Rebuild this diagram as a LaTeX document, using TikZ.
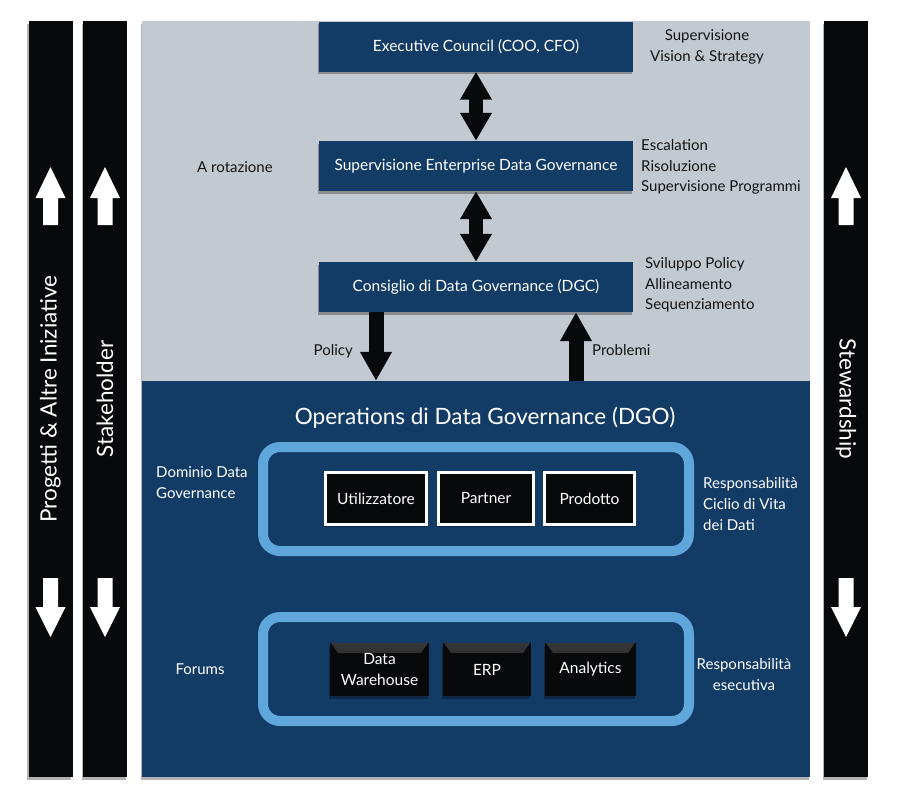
\documentclass[tikz,border=0pt]{standalone}
\usepackage{fontspec}
\setmainfont{Lato}
\usetikzlibrary{arrows.meta,shadows}
\definecolor{dblue}{HTML}{123C66}
\definecolor{pgray}{HTML}{C3C9D1}
\definecolor{barblack}{HTML}{08090B}
\definecolor{lblue}{HTML}{5FA6DB}
\definecolor{txt}{HTML}{141414}
\begin{document}
\begin{tikzpicture}[x=1pt,y=-1pt,
  shadowed/.style={drop shadow={shadow xshift=-1.5pt,shadow yshift=-2.5pt,opacity=0.3,fill=black}},
  govbox/.style={fill=dblue,text=white,minimum width=314pt,minimum height=50pt,inner sep=0pt,
    font=\fontsize{15.5}{18}\selectfont,shadowed},
  bar/.style={fill=barblack,minimum width=44pt,minimum height=756pt,inner sep=0pt,shadowed},
  bartext/.style={text=white,font=\fontsize{22.5}{26}\selectfont},
  side/.style={text=txt,font=\fontsize{15}{20.5}\selectfont,inner sep=0pt},
  sidew/.style={text=white,font=\fontsize{15}{21}\selectfont,inner sep=0pt},
  domainbox/.style={fill=barblack,draw=white,line width=3pt,text=white,minimum height=52pt,inner sep=0pt,
    font=\fontsize{15.5}{18}\selectfont,shadowed},
  forumbox/.style={fill=barblack,text=white,minimum height=53pt,inner sep=0pt,align=center,
    font=\fontsize{15.5}{21}\selectfont,shadowed,
    path picture={\shade[top color=black!78,bottom color=barblack]
      ([xshift=1pt]path picture bounding box.north west) -- ([xshift=-1pt]path picture bounding box.north east)
      -- ([xshift=-8pt,yshift=-10pt]path picture bounding box.north east)
      -- ([xshift=8pt,yshift=-10pt]path picture bounding box.north west) -- cycle;}},
  container/.style={draw=lblue,line width=10pt,rounded corners=17pt,fill=dblue,minimum width=426pt,minimum height=104pt,inner sep=0pt,shadowed},
  bigarrow/.style={line width=14pt,draw=barblack},
  dtip/.style={{Triangle[width=30pt,length=28pt]}-{Triangle[width=30pt,length=28pt]}},
  utip/.style={-{Triangle[width=30pt,length=29pt]}},
  whitearrow/.style={fill=white}
]
\useasboundingbox (0,0) rectangle (898,793);
\fill[white] (0,0) rectangle (898,793);

% side bars
\node[bar] (b1) at (50.5,399) {};
\node[bar] (b2) at (105,399) {};
\node[bar] (b3) at (846,399) {};
\node[bartext,rotate=90] (t1) at (b1) {Progetti \& Altre Iniziative};
\node[bartext,rotate=90] (t2) at (b2) {Stakeholder};
\node[bartext,rotate=-90] (t3) at (b3) {Stewardship};

% white arrows in bars (up at top, down at bottom)
\foreach \cx in {50.5,105,846}{
  \fill[whitearrow] (\cx-7.5,225) -- (\cx-7.5,198) -- (\cx-15,198) -- (\cx,167) -- (\cx+15,198) -- (\cx+7.5,198) -- (\cx+7.5,225) -- cycle;
  \fill[whitearrow] (\cx-7.5,578) -- (\cx-7.5,607) -- (\cx-15,607) -- (\cx,637) -- (\cx+15,607) -- (\cx+7.5,607) -- (\cx+7.5,578) -- cycle;
}

% main panels
\fill[black,opacity=0.3] (140.5,23.5) rectangle (808.5,779.5);
\node[fill=pgray,minimum width=668pt,minimum height=360pt,inner sep=0pt] (top) at (476,201) {};
\node[fill=dblue,minimum width=668pt,minimum height=396pt,inner sep=0pt] (ops) at (476,579) {};

% governance boxes
\node[govbox] (exec) at (476,46.5) {Executive Council (COO, CFO)};
\node[govbox] (sup) at (476,166) {Supervisione Enterprise Data Governance};
\node[govbox] (cons) at (476,287) {Consiglio di Data Governance (DGC)};

% connectors
\draw[bigarrow,dtip] (exec.south) -- (sup.north);
\draw[bigarrow,dtip] (sup.south) -- (cons.north);
\coordinate (px) at (376,0);
\coordinate (qx) at (576,0);
\draw[bigarrow,line width=15pt,utip] (cons.south -| px) -- (ops.north -| px);
\draw[bigarrow,line width=15pt,utip] (ops.north -| qx) -- (cons.south -| qx);

% texts on gray
\node[side] (rot) at (235,167) {A rotazione};
\node[side,align=center] (vis) at (707,47) {Supervisione\\Vision \& Strategy};
\node[side,align=left,anchor=west] (esc) at (641,167) {Escalation\\Risoluzione\\Supervisione Programmi};
\node[side,align=left,anchor=west] (svi) at (645,285) {Sviluppo Policy\\Allineamento\\Sequenziamento};
\node[side,anchor=east] (pol) at (353,351) {Policy};
\node[side,anchor=west] (prob) at (592,350) {Problemi};

% operations
\node[text=white,font=\fontsize{22.5}{26}\selectfont] (dgo) at (485,418) {Operations di Data Governance (DGO)};
\node[container] (dom) at (476,499) {};
\node[container] (for) at (476,669) {};

\node[domainbox,minimum width=101pt] (u) at (376,498.5) {Utilizzatore};
\node[domainbox,minimum width=95pt] (p) at (486,498.5) {Partner};
\node[domainbox,minimum width=90pt] (pr) at (589.5,498.5) {Prodotto};

\node[forumbox,minimum width=99pt] (dw) at (379.5,669.5) {Data\\Warehouse};
\node[forumbox,minimum width=88pt] (erp) at (487,669.5) {ERP};
\node[forumbox,minimum width=91pt] (an) at (590.5,669.5) {Analytics};

\node[sidew,align=left,anchor=west] (dl) at (156,483) {Dominio Data\\Governance};
\node[sidew,align=left,anchor=west] (dr) at (703,504) {Responsabilità\\Ciclio di Vita\\dei Dati};
\node[sidew] (fl) at (200,669) {Forums};
\node[sidew,align=center] (fr) at (744,675) {Responsabilità\\esecutiva};
\end{tikzpicture}
\end{document}
